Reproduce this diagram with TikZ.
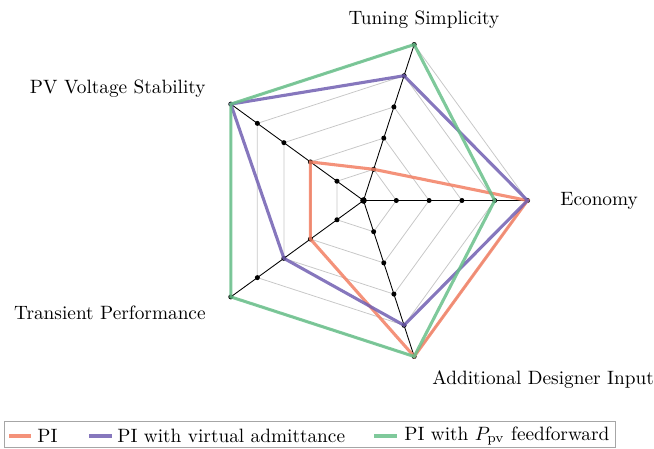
\documentclass[tikz,border=0pt]{standalone}
\usetikzlibrary{calc}
\definecolor{cpi}{RGB}{242,127,99}
\definecolor{cva}{RGB}{113,95,178}
\definecolor{cff}{RGB}{104,192,138}
\tikzset{
  gridline/.style={draw=black!22, line width=0.4pt},
  axisline/.style={draw=black, line width=0.45pt},
  dotmark/.style={circle, fill=black, inner sep=0pt, minimum size=2.6pt},
  series/.style={line width=1.6pt, opacity=0.85, line join=miter},
  lab/.style={font=\fontsize{10}{12}\selectfont, inner sep=0pt},
  legline/.style={line width=1.6pt, opacity=0.85},
}
\begin{document}
\begin{tikzpicture}[x=0.518pt,y=-0.518pt]
\useasboundingbox (0,0) rectangle (654,448);
\coordinate (O) at (363.5,200.5);
\foreach \k in {0,...,4}{
  \foreach \l in {1,...,5}{
    \coordinate (p-\k-\l) at ($(O)+({-72*\k}:{164*\l/5})$);
  }
}
% grid
\foreach \l in {1,...,5}{
  \draw[gridline] (p-0-\l) -- (p-1-\l) -- (p-2-\l) -- (p-3-\l) -- (p-4-\l) -- cycle;
}
% axes
\foreach \k in {0,...,4}{
  \draw[axisline] (O) -- (p-\k-5);
}
% dots
\node[dotmark, minimum size=3.4pt] (c0) at (O) {};
\foreach \k in {0,...,4}{
  \foreach \l in {1,...,5}{
    \node[dotmark] (d-\k-\l) at (p-\k-\l) {};
  }
}
% series
\draw[series, cpi] (p-0-5) -- (p-1-1) -- (p-2-2) -- (p-3-2) -- (p-4-5) -- cycle;
\draw[series, cva] (p-0-5) -- (p-1-4) -- (p-2-5) -- (p-3-3) -- (p-4-4) -- cycle;
\draw[series, cff] (p-0-4) -- (p-1-5) -- (p-2-5) -- (p-3-5) -- (p-4-5) -- cycle;
% labels
\node[lab, anchor=base] (l1) at (424,24) {Tuning Simplicity};
\node[lab, anchor=east] (l2) at (206,89) {PV Voltage Stability};
\node[lab, anchor=west] (l0) at (560,201) {Economy};
\node[lab, anchor=east] (l3) at (206,313) {Transient Performance};
\node[lab, anchor=west] (l4) at (432,380) {Additional Designer Input};
% legend
\draw[draw=black!35, line width=0.5pt] (4.5,421) rectangle (615,447.5);
\coordinate (a1) at (9,436); \coordinate (b1) at (31,436);
\coordinate (a2) at (89,436); \coordinate (b2) at (112,436);
\coordinate (a3) at (374,436); \coordinate (b3) at (397,436);
\draw[legline, cpi] (a1) -- (b1);
\draw[legline, cva] (a2) -- (b2);
\draw[legline, cff] (a3) -- (b3);
\node[lab, anchor=west] (t1) at (37,436) {PI};
\node[lab, anchor=west] (t2) at (117,436) {PI with virtual admittance};
\node[lab, anchor=west] (t3) at (404,436) {PI with $P_{\mathrm{pv}}$ feedforward};
\end{tikzpicture}
\end{document}
